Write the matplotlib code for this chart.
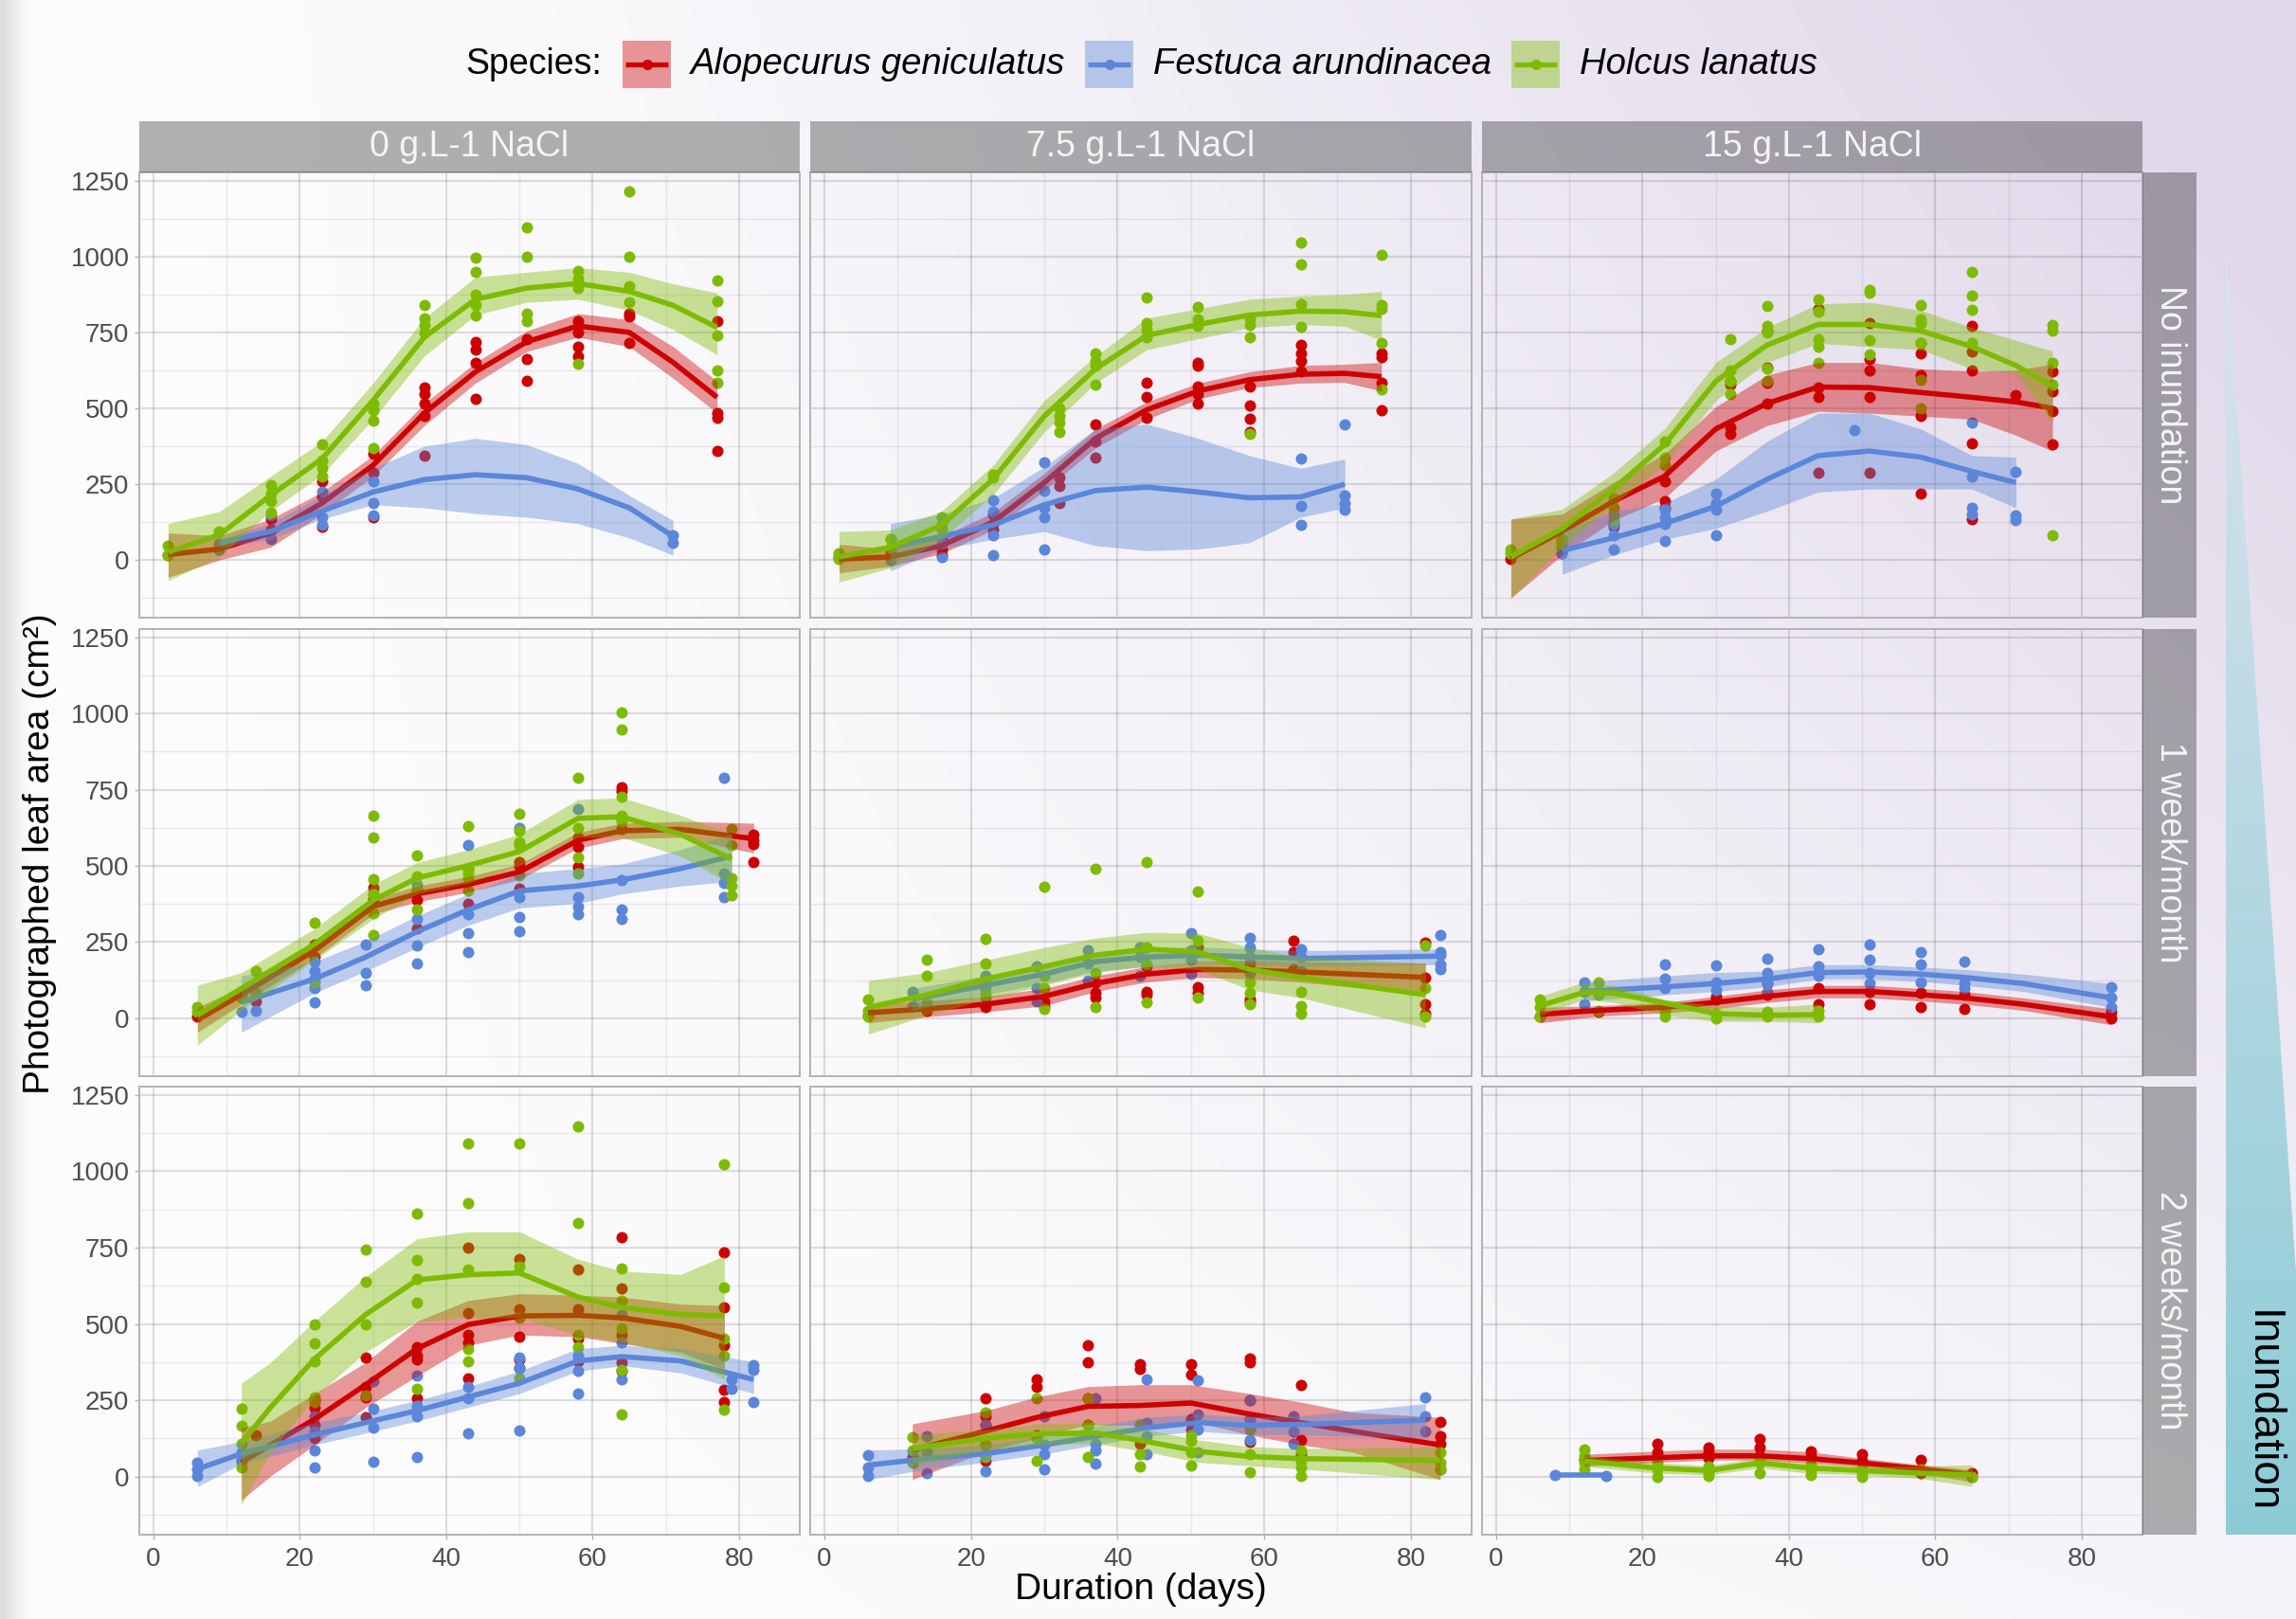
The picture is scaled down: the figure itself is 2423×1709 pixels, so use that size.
import numpy as np
import matplotlib
matplotlib.use("Agg")
import matplotlib.pyplot as plt
from matplotlib.patches import Polygon, Rectangle

plt.rcParams['font.family'] = ['Liberation Sans', 'DejaVu Sans']

# ---- data ---------------------------------------------------------------
# points: species -> [(day, [values...]), ...]
# smooth: species -> [(day, fit, lower, upper), ...]
species = ["A", "F", "H"]
species_names = ["Alopecurus geniculatus", "Festuca arundinacea", "Holcus lanatus"]
colors = {"A": "#cc0000", "F": "#5b86d9", "H": "#7ebb00"}
col_labels = ["0 g.L-1 NaCl", "7.5 g.L-1 NaCl", "15 g.L-1 NaCl"]
row_labels = ["No inundation", "1 week/month", "2 weeks/month"]

# row 1 : no inundation
pts_0_none = {
    "A": [(2, [16]), (9, [36]), (16, [135, 99]), (23, [260, 208, 109]), (30, [349, 286, 141]),
          (37, [568, 547, 516, 474, 344]), (44, [719, 693, 651, 531]), (51, [729, 661, 589]),
          (58, [786, 750, 703, 672]), (65, [812, 802, 714]), (77, [786, 484, 469, 359])],
    "F": [(9, [52, 36]), (16, [146, 68]), (23, [224, 141, 115]), (30, [260, 187, 146]), (71, [83, 57])],
    "H": [(2, [47, 16]), (9, [94]), (16, [248, 219, 193, 156]), (23, [380, 328, 302, 276]),
          (30, [516, 495, 458, 370]), (37, [839, 797, 776, 750]), (44, [995, 948, 875, 839, 807]),
          (51, [1096, 1000, 812, 786]), (58, [953, 927, 896, 646]), (65, [1214, 1000, 901, 849]),
          (77, [922, 854, 740, 625, 583])],
}
fit_0_none = {
    "A": [(2, 18, -57, 89), (9, 36, 0, 80), (16, 89, 42, 135), (23, 187, 151, 224), (30, 312, 276, 344),
          (37, 484, 443, 516), (44, 620, 583, 651), (51, 719, 687, 755), (58, 771, 734, 812),
          (65, 750, 703, 792), (71, 651, 599, 703), (77, 536, 484, 589)],
    "F": [(9, 57, 42, 68), (16, 94, 68, 120), (23, 161, 135, 213), (30, 224, 182, 302), (37, 265, 172, 375),
          (44, 281, 153, 401), (51, 271, 141, 380), (58, 234, 120, 318), (65, 172, 73, 213), (71, 78, 16, 130)],
    "H": [(2, 26, -68, 120), (9, 83, 10, 160), (16, 213, 161, 276), (23, 333, 281, 390), (30, 526, 464, 583),
          (37, 734, 672, 797), (44, 859, 807, 932), (51, 896, 849, 948), (58, 911, 859, 963),
          (65, 885, 823, 948), (71, 839, 760, 910), (77, 766, 677, 880)],
}
pts_75_none = {
    "A": [(2, [10]), (9, [26]), (16, [68, 36, 16]), (23, [151, 120, 99]), (32, [271, 245, 187]),
          (37, [448, 391, 339]), (44, [583, 536, 469]), (51, [651, 641, 573, 547, 516]),
          (58, [573, 510, 464, 422]), (65, [708, 682, 656, 620]), (76, [682, 667, 583, 495])],
    "F": [(9, [68, 0]), (16, [57, 10]), (23, [198, 161, 83, 16]), (30, [323, 229, 172, 141, 36]),
          (65, [333, 177, 115]), (71, [448, 214, 187, 167])],
    "H": [(2, [21, 5]), (9, [68, 42]), (16, [141, 120, 99]), (23, [281, 271]), (32, [500, 474, 453, 422]),
          (37, [682, 656, 641, 578]), (44, [865, 781, 760, 734]), (51, [833, 792, 771]),
          (58, [797, 776, 734, 417]), (65, [1047, 974, 844, 768]), (76, [1005, 839, 828, 716, 562])],
}
fit_75_none = {
    "A": [(2, 3, -42, 52), (9, 10, -21, 36), (16, 47, 21, 78), (23, 125, 99, 156), (30, 255, 229, 286),
          (37, 401, 370, 432), (44, 495, 464, 521), (51, 557, 531, 583), (58, 594, 568, 620),
          (65, 612, 583, 641), (71, 615, 585, 645), (76, 604, 557, 651)],
    "F": [(9, 42, -36, 120), (16, 78, 36, 151), (23, 115, 68, 203), (30, 182, 94, 307), (37, 229, 47, 432),
          (44, 240, 31, 448), (51, 224, 36, 401), (58, 205, 57, 344), (65, 208, 141, 302), (71, 250, 172, 333)],
    "H": [(2, 10, -73, 94), (9, 42, -26, 99), (16, 115, 68, 161), (23, 266, 214, 312), (30, 474, 422, 526),
          (37, 630, 583, 672), (44, 740, 693, 797), (51, 776, 729, 828), (58, 807, 766, 859),
          (65, 820, 776, 870), (71, 818, 770, 875), (76, 805, 724, 885)],
}
pts_15_none = {
    "A": [(2, [5]), (9, [21]), (16, [120, 109]), (23, [260, 193, 172]), (32, [589, 578, 437, 417]),
          (37, [755, 635, 583, 516]), (44, [828, 568, 536, 286]), (51, [781, 661, 625, 536, 286]),
          (58, [714, 682, 609, 474, 219]), (65, [771, 687, 625, 385, 135]), (71, [542]),
          (76, [620, 557, 490, 380])],
    "F": [(9, [62, 42, 21]), (16, [120, 83, 36]), (23, [167, 141, 120, 62]), (30, [219, 187, 167, 83]),
          (49, [427]), (65, [453, 276, 172, 151]), (71, [292, 146, 130])],
    "H": [(2, [36, 21]), (9, [68, 52]), (16, [203, 172, 151, 130]), (23, [391, 339, 312]),
          (32, [729, 625, 589, 547]), (37, [836, 771, 750, 630, 589]), (44, [859, 818, 729, 703, 651]),
          (51, [891, 880, 724, 677]), (58, [841, 792, 781, 714, 594, 500]), (65, [948, 870, 823, 714]),
          (76, [776, 755, 651, 578, 83])],
}
fit_15_none = {
    "A": [(2, 5, -125, 135), (9, 94, 16, 151), (16, 193, 130, 255), (23, 276, 203, 349), (30, 432, 359, 505),
          (37, 516, 443, 609), (44, 570, 490, 651), (51, 568, 484, 651), (58, 552, 474, 630),
          (65, 536, 464, 622), (71, 521, 411, 625), (76, 500, 359, 646)],
    "F": [(9, 31, -47, 94), (16, 73, 16, 161), (23, 120, 68, 187), (30, 177, 104, 266), (37, 266, 161, 391),
          (44, 344, 224, 484), (51, 359, 234, 484), (58, 339, 234, 432), (65, 292, 234, 344), (71, 255, 172, 339)],
    "H": [(2, 10, -125, 135), (9, 104, 42, 167), (16, 234, 182, 286), (23, 380, 318, 432), (30, 589, 526, 651),
          (37, 708, 651, 766), (44, 776, 714, 844), (51, 776, 703, 849), (58, 755, 693, 823),
          (65, 703, 630, 766), (71, 641, 614, 724), (76, 573, 453, 688)],
}

# row 2 : 1 week/month
pts_0_week = {
    "A": [(6, [5]), (14, [57]), (22, [243, 201]), (30, [429, 408, 392]), (36, [418, 387, 294]),
          (43, [491, 377]), (50, [511, 501, 424]), (58, [594, 563, 496]), (64, [759, 744, 651, 620]),
          (82, [604, 584, 573, 513])],
    "F": [(12, [67, 21]), (14, [26]), (22, [186, 155, 129, 98, 52]), (29, [243, 150, 108]),
          (36, [439, 325, 238, 181]), (43, [568, 341, 279, 217]), (50, [625, 398, 331, 284]),
          (58, [685, 398, 367, 341]), (64, [454, 356, 325]), (78, [788, 475, 444, 398])],
    "H": [(6, [36, 21]), (12, [67]), (14, [155, 83]), (22, [315, 119]), (30, [664, 594, 455, 408, 346, 274]),
          (36, [535, 465, 418, 356]), (43, [630, 491, 475, 460, 418]), (50, [671, 615, 578, 568, 470]),
          (58, [790, 625, 527, 475]), (64, [1004, 948, 726, 664, 646]), (79, [622, 568, 460, 434, 403])],
}
fit_0_week = {
    "A": [(6, -5, -46, 36), (12, 77, 46, 103), (22, 222, 196, 248), (30, 367, 341, 392), (36, 408, 382, 434),
          (43, 439, 413, 465), (50, 480, 455, 506), (58, 584, 558, 610), (64, 615, 589, 640),
          (72, 620, 594, 646), (82, 589, 542, 640)],
    "F": [(12, 52, -46, 139), (22, 129, 83, 186), (29, 201, 155, 253), (36, 284, 232, 336), (43, 356, 305, 408),
          (50, 418, 362, 475), (58, 434, 377, 491), (64, 454, 408, 506), (72, 491, 434, 553), (79, 532, 449, 604)],
    "H": [(6, 10, -88, 108), (12, 98, 26, 150), (22, 243, 191, 294), (30, 387, 325, 439), (36, 460, 408, 511),
          (43, 501, 444, 553), (50, 547, 501, 604), (58, 656, 594, 718), (64, 661, 594, 723),
          (72, 604, 532, 666), (79, 522, 439, 604)],
}
pts_75_week = {
    "A": [(6, [10]), (14, [26]), (22, [36]), (30, [57, 41]), (37, [119, 83, 67]), (44, [170, 88, 77]),
          (51, [232, 103, 83]), (58, [181, 62, 52]), (64, [255, 217, 160]), (82, [248, 134, 46, 15])],
    "F": [(12, [88, 41]), (22, [139, 98, 67]), (29, [170, 98, 57]), (36, [222, 181, 124]),
          (43, [232, 201, 139]), (50, [279, 222, 191, 145]), (58, [263, 232, 201, 150]),
          (65, [227, 201, 155]), (84, [274, 217, 207, 176, 160])],
    "H": [(6, [62, 26, 5]), (14, [191, 139, 52]), (22, [261, 181, 119, 77]), (30, [431, 139, 98, 31]),
          (37, [491, 150, 36]), (44, [511, 232, 176, 52]), (51, [416, 253, 67]), (58, [119, 83, 46]),
          (65, [88, 41, 15]), (82, [238, 98, 5])],
}
fit_75_week = {
    "A": [(6, 18, -15, 46), (14, 31, 5, 57), (22, 46, 21, 72), (30, 72, 41, 98), (37, 114, 88, 139),
          (44, 145, 119, 170), (51, 160, 134, 186), (58, 158, 129, 191), (65, 152, 119, 186), (82, 134, 77, 181)],
    "F": [(12, 62, 26, 98), (22, 108, 77, 139), (30, 145, 114, 176), (37, 186, 155, 217), (44, 201, 170, 232),
          (51, 207, 181, 234), (58, 201, 176, 227), (65, 196, 170, 222), (84, 204, 176, 227)],
    "H": [(6, 36, -52, 124), (14, 77, 10, 150), (22, 129, 62, 191), (30, 170, 108, 232), (37, 207, 150, 263),
          (44, 227, 170, 282), (51, 217, 160, 279), (58, 160, 93, 232), (65, 134, 67, 201), (82, 77, -31, 181)],
}
pts_15_week = {
    "A": [(6, [5]), (14, [21]), (23, [36]), (30, [72, 62]), (37, [114, 77]), (44, [98, 46]), (51, [88, 46]),
          (58, [83, 36]), (64, [77, 31]), (84, [21, 0])],
    "F": [(12, [119, 88, 46]), (23, [176, 129, 98]), (30, [174, 119, 93]), (37, [194, 150, 119, 88]),
          (44, [227, 170, 139]), (51, [243, 191, 150, 114]), (58, [217, 176, 119]), (64, [186, 114, 98]),
          (84, [103, 67, 36])],
    "H": [(6, [62, 36, 5]), (14, [119, 77, 26]), (23, [26, 5]), (30, [15, 0]), (37, [21, 5]), (44, [26, 5])],
}
fit_15_week = {
    "A": [(6, 13, -15, 36), (14, 26, 7, 41), (23, 36, 18, 52), (30, 52, 31, 72), (37, 72, 52, 93),
          (44, 88, 67, 108), (51, 88, 67, 108), (58, 77, 57, 98), (64, 67, 46, 88), (72, 46, 26, 67),
          (84, 5, -21, 31)],
    "F": [(12, 88, 57, 119), (23, 103, 77, 139), (30, 114, 88, 150), (37, 129, 103, 155), (44, 150, 129, 176),
          (51, 152, 129, 176), (58, 145, 121, 168), (64, 134, 108, 160), (72, 114, 88, 145), (84, 67, 36, 114)],
    "H": [(6, 41, 10, 72), (12, 85, 62, 119), (16, 83, 52, 108), (23, 50, 10, 62), (30, 15, -10, 41),
          (37, 10, -10, 36), (44, 12, -15, 46)],
}

# row 3 : 2 weeks/month
pts_0_2week = {
    "A": [(12, [70, 53]), (14, [137]), (22, [250, 227, 171, 126]), (29, [391, 295, 261, 194]),
          (36, [424, 396, 385, 256]), (43, [751, 537, 464, 441, 323]), (50, [712, 548, 458, 385, 357]),
          (58, [678, 548, 453, 379]), (64, [783, 616, 464, 374, 346]), (78, [734, 554, 430, 284, 244])],
    "F": [(6, [47, 25, 2]), (12, [81, 59]), (22, [199, 149, 87, 30]), (30, [312, 222, 160, 50]),
          (36, [331, 233, 199, 64]), (43, [295, 256, 143]), (50, [391, 357, 151]), (58, [396, 346, 272]),
          (64, [531, 441, 318]), (79, [318, 289]), (82, [365, 351, 244])],
    "H": [(12, [222, 166, 109, 30]), (22, [498, 436, 379, 261, 244]), (29, [743, 638, 498, 267]),
          (36, [861, 709, 646, 569, 289]), (43, [1091, 897, 678, 419, 379]), (50, [1091, 689, 520, 323]),
          (58, [1148, 830, 464, 424]), (64, [683, 576, 486, 351, 203]), (78, [1022, 619, 453, 396, 218])],
}
fit_0_2week = {
    "A": [(12, 47, -77, 160), (16, 104, 2, 182), (22, 188, 104, 272), (29, 301, 227, 374), (36, 419, 329, 509),
          (43, 498, 430, 577), (50, 526, 464, 599), (58, 528, 458, 594), (64, 520, 436, 588),
          (72, 492, 408, 565), (78, 453, 351, 560)],
    "F": [(6, 25, -32, 87), (12, 75, 42, 115), (22, 137, 104, 177), (29, 177, 143, 210), (36, 216, 182, 250),
          (43, 261, 227, 295), (50, 306, 272, 346), (58, 379, 346, 419), (64, 393, 363, 430),
          (72, 379, 340, 419), (82, 318, 272, 376)],
    "H": [(12, 109, -93, 306), (16, 227, 81, 374), (22, 385, 261, 509), (29, 531, 408, 655), (36, 644, 509, 779),
          (43, 661, 520, 802), (50, 667, 520, 802), (58, 588, 464, 712), (64, 554, 441, 673),
          (72, 531, 396, 662), (78, 526, 318, 723)],
}
pts_75_2week = {
    "A": [(12, [64]), (22, [256, 199, 171, 53]), (29, [320, 295, 137]), (36, [430, 376, 256, 171]),
          (43, [368, 354, 109]), (50, [368, 334, 188, 154]), (58, [387, 376, 250, 188, 115]),
          (65, [301, 120, 75]), (84, [179, 132, 109, 25])],
    "F": [(6, [70, 30, 2]), (14, [132, 81, 11]), (22, [171, 104, 19]), (30, [199, 104, 75, 25]),
          (37, [256, 109, 87, 42]), (44, [320, 177, 132, 75]), (51, [315, 205, 154, 81]),
          (58, [250, 188, 120]), (64, [199, 149, 109]), (82, [259, 199, 149])],
    "H": [(12, [128, 87, 47]), (22, [211, 104, 64]), (29, [256, 126, 53]), (36, [256, 171, 64]),
          (43, [171, 75, 34]), (50, [137, 117, 81, 36]), (58, [154, 75, 14]), (65, [87, 53, 30, 2]),
          (84, [81, 47, 25])],
}
fit_75_2week = {
    "A": [(12, 87, -9, 173), (22, 149, 81, 216), (29, 194, 126, 261), (36, 230, 171, 295), (43, 233, 166, 301),
          (50, 241, 182, 301), (58, 205, 137, 272), (65, 177, 104, 244), (72, 149, 81, 211), (84, 104, -9, 194)],
    "F": [(6, 38, -9, 87), (14, 59, 25, 92), (22, 75, 47, 104), (30, 104, 75, 132), (37, 132, 104, 166),
          (44, 160, 132, 194), (51, 177, 149, 205), (58, 168, 137, 196), (65, 171, 137, 199), (82, 185, 126, 239)],
    "H": [(12, 92, 36, 137), (22, 126, 87, 154), (29, 140, 104, 173), (37, 143, 109, 177), (44, 115, 81, 154),
          (51, 83, 47, 120), (58, 66, 36, 98), (65, 59, 25, 92), (84, 53, -9, 98)],
}
pts_15_2week = {
    "A": [(12, [56]), (22, [107, 79, 68]), (29, [96, 79, 62]), (36, [124, 96, 68]), (43, [84, 68]),
          (50, [73, 51]), (58, [56, 11]), (65, [11, 0])],
    "F": [(8, [6]), (15, [2])],
    "H": [(12, [90, 68, 45, 23]), (22, [45, 23, 0]), (29, [34, 11, 2]), (36, [62, 45, 11]), (43, [39, 23, 6]),
          (50, [28, 11, 0]), (58, [23]), (65, [0])],
}
fit_15_2week = {
    "A": [(12, 53, 34, 73), (22, 62, 47, 84), (29, 68, 54, 90), (36, 68, 54, 90), (43, 59, 45, 81),
          (50, 45, 32, 60), (58, 25, 11, 39), (65, 6, -17, 23)],
    "F": [(8, 4, 4, 4), (15, 4, 4, 4)],
    "H": [(12, 51, 34, 68), (22, 28, 11, 45), (29, 20, 6, 36), (36, 45, 28, 62), (43, 28, 11, 45),
          (50, 20, 6, 36), (58, 11, -6, 34), (65, 6, -32, 39)],
}

panel_points = [[pts_0_none, pts_75_none, pts_15_none],
                [pts_0_week, pts_75_week, pts_15_week],
                [pts_0_2week, pts_75_2week, pts_15_2week]]
panel_fits = [[fit_0_none, fit_75_none, fit_15_none],
              [fit_0_week, fit_75_week, fit_15_week],
              [fit_0_2week, fit_75_2week, fit_15_2week]]

# ---- layout (pixels) ----------------------------------------------------
W, H = 2423, 1709
COLS = [(147, 844), (855, 1553), (1564, 2261)]
ROWS = [(182, 652), (664, 1136), (1147, 1620)]


def frac(x0, y0, x1, y1):
    return [x0 / W, 1 - y1 / H, (x1 - x0) / W, (y1 - y0) / H]


fig = plt.figure(figsize=(W / 100, H / 100), dpi=100)

# background gradient
bg = fig.add_axes([0, 0, 1, 1], zorder=0)
xs = np.linspace(0, 1, 300)
ys = np.linspace(0, 1, 220)
X, Y = np.meshgrid(xs, ys)
f = np.clip(1.15 * X ** 1.5 * (1 - 0.8 * Y), 0, 1)
white = np.array([253, 253, 253]) / 255
lav = np.array([224, 216, 234]) / 255
img = white * (1 - f[..., None]) + lav * f[..., None]
shade = np.clip(1 - X * W / 30, 0, 1) ** 1.5 * 0.13
img = img * (1 - shade[..., None])
bg.imshow(img, extent=(0, W, H, 0), aspect='auto', interpolation='bilinear')

# inundation wedge
tri = Polygon([(2349, 263), (2349, 1620), (2442, 1620)], closed=True,
              facecolor='none', edgecolor='none')
bg.add_patch(tri)
g = np.linspace(0, 1, 256)[:, None, None]
top_c = np.array([0.86, 0.89, 0.93])
bot_c = np.array([0.55, 0.80, 0.84])
timg = top_c * (1 - g) + bot_c * g
im = bg.imshow(timg, extent=(2349, 2442, 1620, 263), aspect='auto')
im.set_clip_path(tri)
bg.text(2387, 1490, "Inundation", rotation=-90, ha='center', va='center', fontsize=33, color='black')

# legend
bg.text(491, 68, "Species:", fontsize=27, ha='left', va='center')
for sp, name, kx in zip(species, species_names, [657, 1145, 1595]):
    bg.add_patch(Rectangle((kx, 43), 51, 50, facecolor=colors[sp], alpha=0.4, edgecolor='none'))
    bg.plot([kx + 3, kx + 48], [68, 68], color=colors[sp], lw=3.8, solid_capstyle='butt')
    bg.plot([kx + 25.5], [68], 'o', color=colors[sp], ms=7)
    bg.text(kx + 72, 68, name, fontsize=27.5, style='italic', ha='left', va='center')

bg.set_xlim(0, W)
bg.set_ylim(H, 0)
bg.axis('off')

# panels
for r, (y0, y1) in enumerate(ROWS):
    for c, (x0, x1) in enumerate(COLS):
        ax = fig.add_axes(frac(x0, y0, x1, y1), zorder=2)
        ax.set_facecolor('none')
        pts = panel_points[r][c]
        fits = panel_fits[r][c]
        for sp in species:
            xx = [d for d, vals in pts[sp] for v in vals]
            yy = [v for d, vals in pts[sp] for v in vals]
            ax.scatter(xx, yy, s=75, color=colors[sp], linewidths=0, zorder=2)
        for sp in species:
            d = np.array(fits[sp], dtype=float)
            ax.fill_between(d[:, 0], d[:, 2], d[:, 3], color=colors[sp], alpha=0.4, lw=0, zorder=3)
            ax.plot(d[:, 0], d[:, 1], color=colors[sp], lw=4.0, zorder=3,
                    solid_joinstyle='round', solid_capstyle='butt')
        ax.set_xlim(-1.94, 88.3)
        ax.set_ylim(-190, 1277)
        ax.set_xticks([0, 20, 40, 60, 80])
        ax.set_xticks([10, 30, 50, 70], minor=True)
        ax.set_yticks([0, 250, 500, 750, 1000, 1250])
        ax.set_yticks([-125, 125, 375, 625, 875, 1125], minor=True)
        ax.grid(which='major', color='black', alpha=0.12, lw=1.6)
        ax.grid(which='minor', color='black', alpha=0.07, lw=1.0)
        ax.set_axisbelow(True)
        for s in ax.spines.values():
            s.set_color('#b3b3b3')
            s.set_linewidth(1.4)
        ax.tick_params(which='minor', length=0)
        ax.tick_params(which='major', length=3.6, color='#b3b3b3', width=1.0,
                       labelcolor='#4d4d4d', labelsize=20)
        ax.tick_params(axis='y', pad=4, labelleft=(c == 0), left=(c == 0))
        ax.tick_params(axis='x', pad=6, labelbottom=(r == 2), bottom=(r == 2))

# strips
for c, (x0, x1) in enumerate(COLS):
    sa = fig.add_axes(frac(x0, 128, x1, 182), zorder=2)
    sa.set_facecolor((0, 0, 0, 0.3))
    sa.set_xticks([]); sa.set_yticks([])
    for s in sa.spines.values():
        s.set_visible(False)
    sa.text(0.5, 0.5, col_labels[c], transform=sa.transAxes, ha='center', va='center',
            fontsize=27, color='#f4f4f4')
for r, (y0, y1) in enumerate(ROWS):
    sa = fig.add_axes(frac(2261, y0, 2318, y1), zorder=2)
    sa.set_facecolor((0, 0, 0, 0.3))
    sa.set_xticks([]); sa.set_yticks([])
    for s in sa.spines.values():
        s.set_visible(False)
    sa.text(0.5, 0.5, row_labels[r], transform=sa.transAxes, ha='center', va='center',
            rotation=-90, fontsize=27, color='#f4f4f4')

fig.text(42 / W, 1 - 901 / H, "Photographed leaf area (cm²)", rotation=90,
         ha='center', va='center', fontsize=28)
fig.text(1204 / W, 1 - 1678 / H, "Duration (days)", ha='center', va='center', fontsize=28)

fig.savefig("out.png", dpi=100)
